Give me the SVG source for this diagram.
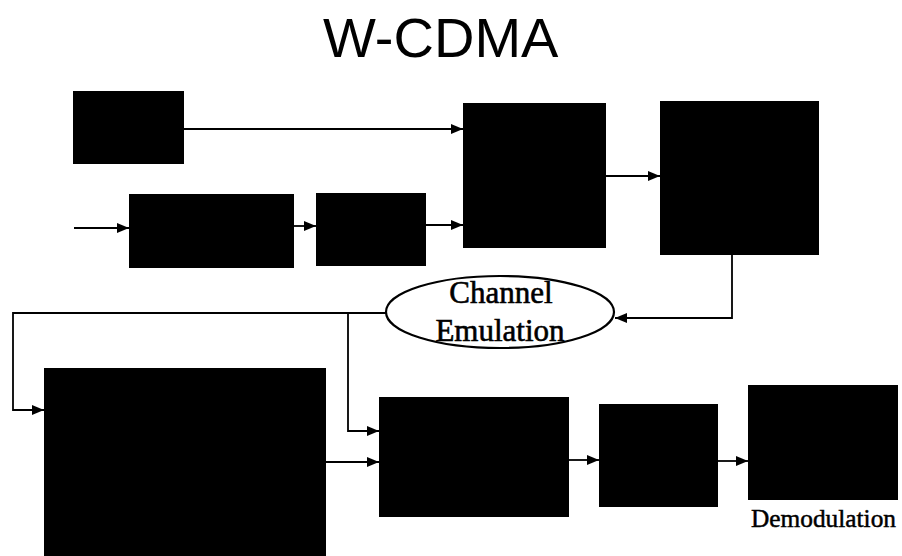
<svg xmlns="http://www.w3.org/2000/svg" width="902" height="556" viewBox="0 0 902 556">
  <style>
    .blk { fill: #000; }
    .wire { fill: none; stroke: #000; stroke-width: 1.8; }
    .title { font-family: "Liberation Sans", Arial, sans-serif; font-size: 56px; fill: #000; }
    .serif { font-family: "Liberation Serif", "Times New Roman", serif; fill: #000; }
  </style>
  <defs>
    <marker id="arrow" viewBox="0 0 12 10" refX="12" refY="5" markerWidth="12" markerHeight="10" markerUnits="userSpaceOnUse" orient="auto">
      <path d="M0,0 L12,5 L0,10 z" fill="#000"/>
    </marker>
  </defs>
  <rect width="902" height="556" fill="#fff"/>

  <text class="title" x="323" y="57">W-CDMA</text>

  <!-- connectors -->
  <g id="connectors">
    <line class="wire" x1="184" y1="129" x2="463" y2="129" marker-end="url(#arrow)"/>
    <line class="wire" x1="74" y1="228" x2="129" y2="228" marker-end="url(#arrow)"/>
    <line class="wire" x1="294" y1="226" x2="316" y2="226" marker-end="url(#arrow)"/>
    <line class="wire" x1="426" y1="225" x2="463" y2="225" marker-end="url(#arrow)"/>
    <line class="wire" x1="606" y1="176" x2="660" y2="176" marker-end="url(#arrow)"/>
    <polyline class="wire" points="732,255 732,318 615,318" marker-end="url(#arrow)"/>
    <polyline class="wire" points="386,313 13,313 13,410 44,410" marker-end="url(#arrow)"/>
    <polyline class="wire" points="348,313 348,431 379,431" marker-end="url(#arrow)"/>
    <line class="wire" x1="326" y1="462" x2="379" y2="462" marker-end="url(#arrow)"/>
    <line class="wire" x1="569" y1="460" x2="599" y2="460" marker-end="url(#arrow)"/>
    <line class="wire" x1="718" y1="461" x2="748" y2="461" marker-end="url(#arrow)"/>
  </g>

  <!-- blocks -->
  <g id="node-a"><rect class="blk" x="73" y="91" width="111" height="73"/></g>
  <g id="node-b"><rect class="blk" x="129" y="194" width="165" height="74"/></g>
  <g id="node-c"><rect class="blk" x="316" y="193" width="110" height="73"/></g>
  <g id="node-d"><rect class="blk" x="463" y="103" width="143" height="145"/></g>
  <g id="node-e"><rect class="blk" x="660" y="101" width="159" height="154"/></g>

  <g id="node-channel">
    <ellipse cx="500" cy="312" rx="114" ry="36" fill="#fff" stroke="#000" stroke-width="2.2"/>
    <text class="serif" x="501" y="303" font-size="31" text-anchor="middle" stroke="#000" stroke-width="0.6">Channel</text>
    <text class="serif" x="500" y="341" font-size="31" text-anchor="middle" stroke="#000" stroke-width="0.6">Emulation</text>
  </g>

  <g id="node-i"><rect class="blk" x="44" y="368" width="282" height="188"/></g>
  <g id="node-f"><rect class="blk" x="379" y="397" width="190" height="120"/></g>
  <g id="node-g"><rect class="blk" x="599" y="404" width="119" height="103"/></g>
  <g id="node-h">
    <rect class="blk" x="748" y="385" width="150" height="115"/>
    <text class="serif" x="751" y="527" font-size="26" textLength="145" lengthAdjust="spacingAndGlyphs" stroke="#000" stroke-width="0.5">Demodulation</text>
  </g>
</svg>
